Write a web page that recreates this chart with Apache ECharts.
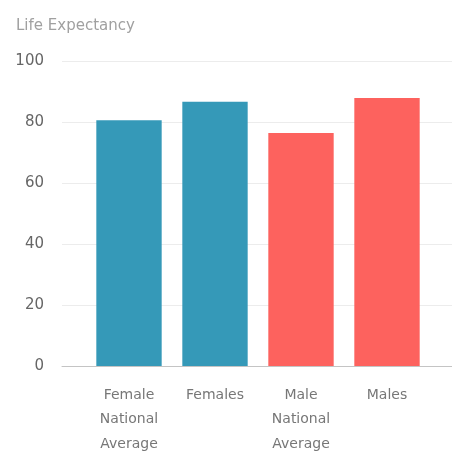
<!DOCTYPE html>
<html>
<head>
<meta charset="utf-8">
<script src="https://cdn.jsdelivr.net/npm/echarts@6/dist/echarts.min.js"></script>
<style>
  html, body { margin: 0; padding: 0; background: #fff; }
  #chart { width: 452px; height: 452px; }
</style>
</head>
<body>
<div id="chart"></div>
<script>
    // values
    let categories = ['Female\nNational\nAverage', 'Females', 'Male\nNational\nAverage', 'Males'];
    let lifeExpectancy = [80.6, 86.6, 76.4, 87.9];
    let barColors = ['#3599B8', '#3599B8', '#FD625E', '#FD625E'];
    let yTicks = [0, 20, 40, 60, 80, 100];

    let chart = echarts.init(document.getElementById('chart'));
    let font = '"DejaVu Sans", sans-serif';

    let option = {
        animation: false,
        title: {
            text: 'Life Expectancy',
            left: 11,
            top: 14,
            textStyle: { fontSize: 15, fontWeight: 'normal', color: '#a0a0a0', fontFamily: font }
        },
        grid: [
            // background grid: gridlines + axis line across full width
            { left: 62, right: 0, top: 61, bottom: 86, outerBoundsMode: 'none' },
            // bars, inset from the gridlines
            { left: 86, right: 22, top: 61, bottom: 86, outerBoundsMode: 'none' }
        ],
        xAxis: [
            {
                gridIndex: 0, type: 'value', min: 0, max: 1,
                axisLine: { show: true, onZero: false, lineStyle: { color: '#c4c4c4', width: 1 } },
                axisTick: { show: false }, axisLabel: { show: false }, splitLine: { show: false }
            },
            {
                gridIndex: 1, type: 'category', data: categories,
                axisLine: { show: false }, axisTick: { show: false },
                axisLabel: {
                    margin: 17, interval: 0, color: '#777', fontSize: 14,
                    lineHeight: 24.5, fontFamily: font, verticalAlign: 'top'
                }
            }
        ],
        yAxis: [
            {
                gridIndex: 0, type: 'value', min: yTicks[0], max: yTicks[yTicks.length - 1], interval: 20,
                axisLine: { show: false }, axisTick: { show: false },
                axisLabel: { margin: 18, color: '#666', fontSize: 15, fontFamily: font },
                splitLine: { lineStyle: { color: '#ececec', width: 1 } }
            },
            {
                gridIndex: 1, type: 'value', min: yTicks[0], max: yTicks[yTicks.length - 1],
                show: false
            }
        ],
        series: [{
            type: 'bar',
            xAxisIndex: 1,
            yAxisIndex: 1,
            barWidth: '76%',
            data: lifeExpectancy.map(function (v, i) {
                return { value: v, itemStyle: { color: barColors[i] } };
            })
        }]
    };
    chart.setOption(option);
</script>
</body>
</html>
